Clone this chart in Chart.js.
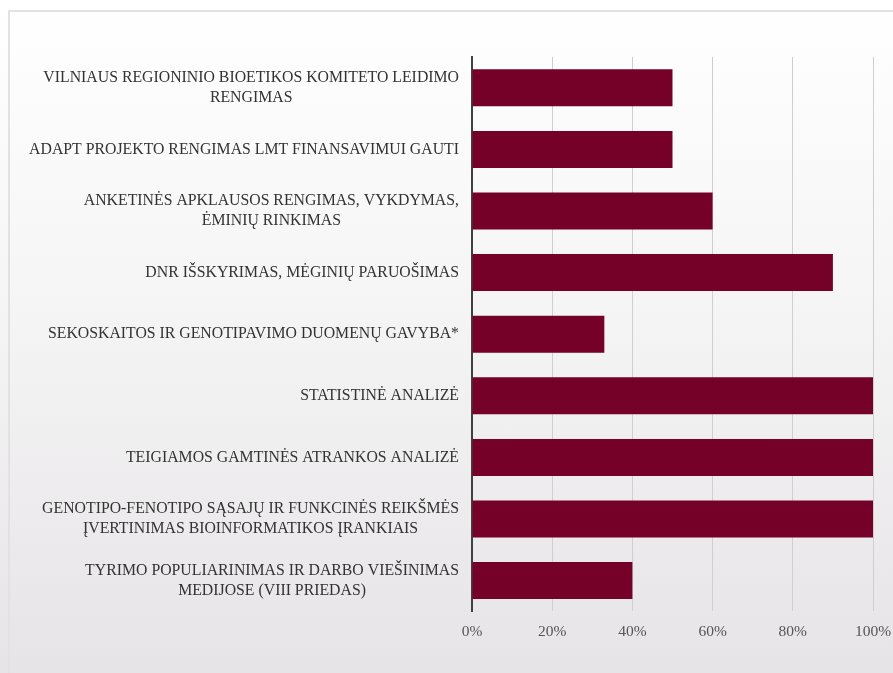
<!DOCTYPE html>
<html>
<head>
<meta charset="utf-8">
<script src="https://cdn.jsdelivr.net/npm/chart.js@4/dist/chart.umd.min.js"></script>
<style>
  html, body { margin: 0; padding: 0; }
  body {
    width: 893px; height: 673px; overflow: hidden; position: relative;
    background: linear-gradient(to bottom, #ffffff 0%, #f6f5f6 45%, #e6e4e6 100%);
  }
  #frame {
    position: absolute; left: 8px; top: 10px; right: -4px; bottom: -4px;
    border-left: 2px solid #e2e2e2; border-top: 2px solid #e2e2e2;
  }
  #wrap { position: absolute; left: 0; top: 0; width: 893px; height: 673px; }
</style>
</head>
<body>
<div id="frame"></div>
<div id="wrap"><canvas id="chart" width="893" height="673"></canvas></div>
<script>
// Work stages and their completion share, in percent
const stages = [
  ["VILNIAUS REGIONINIO BIOETIKOS KOMITETO LEIDIMO", "RENGIMAS"],
  ["ADAPT PROJEKTO RENGIMAS LMT FINANSAVIMUI GAUTI"],
  ["ANKETINĖS APKLAUSOS RENGIMAS, VYKDYMAS,", "ĖMINIŲ RINKIMAS"],
  ["DNR IŠSKYRIMAS, MĖGINIŲ PARUOŠIMAS"],
  ["SEKOSKAITOS IR GENOTIPAVIMO DUOMENŲ GAVYBA*"],
  ["STATISTINĖ ANALIZĖ"],
  ["TEIGIAMOS GAMTINĖS ATRANKOS ANALIZĖ"],
  ["GENOTIPO-FENOTIPO SĄSAJŲ IR FUNKCINĖS REIKŠMĖS", "ĮVERTINIMAS BIOINFORMATIKOS ĮRANKIAIS"],
  ["TYRIMO POPULIARINIMAS IR DARBO VIEŠINIMAS", "MEDIJOSE (VIII PRIEDAS)"]
];
const completion = [50, 50, 60, 90, 33, 100, 100, 100, 40];
const percentTicks = [0, 20, 40, 60, 80, 100];

const SERIF = "'Liberation Serif', 'Times New Roman', serif";

// Category labels: block right-aligned to the axis, lines centred within the block
const stageLabels = {
  id: 'stageLabels',
  afterDraw(chart) {
    const ctx = chart.ctx;
    const y = chart.scales.y;
    const right = chart.chartArea.left - 13;
    const lineH = 20;
    ctx.save();
    ctx.font = "15.8px " + SERIF;
    ctx.fillStyle = '#333333';
    ctx.textAlign = 'center';
    ctx.textBaseline = 'middle';
    stages.forEach((lines, i) => {
      const cy = y.getPixelForValue(i);
      const widest = Math.max(...lines.map(l => ctx.measureText(l).width));
      const cx = right - widest / 2;
      const top = cy - (lines.length - 1) * lineH / 2;
      lines.forEach((l, k) => ctx.fillText(l, cx, top + k * lineH));
    });
    ctx.restore();
  }
};

new Chart(document.getElementById('chart'), {
  type: 'bar',
  data: {
    labels: stages.map(s => s.join(' ')),
    datasets: [{
      data: completion,
      backgroundColor: '#750028',
      borderWidth: 0,
      categoryPercentage: 1,
      barPercentage: 0.6
    }]
  },
  options: {
    indexAxis: 'y',
    responsive: false,
    animation: false,
    layout: { padding: { top: 57, right: 20, bottom: 21, left: 0 } },
    plugins: { legend: { display: false }, tooltip: { enabled: false } },
    scales: {
      x: {
        min: 0, max: 100,
        afterBuildTicks(scale) { scale.ticks = percentTicks.map(v => ({ value: v })); },
        afterFit(scale) { scale.paddingLeft = 0; scale.paddingRight = 0; },
        grid: { color: '#cfcfcf', lineWidth: 1, drawTicks: false },
        border: { display: false },
        ticks: {
          padding: 11,
          color: '#555555',
          font: { family: SERIF, size: 15.5 },
          callback: v => v + '%'
        }
      },
      y: {
        z: 1,
        grid: { display: false, drawTicks: false },
        border: { display: true, color: '#404040', width: 2 },
        ticks: { display: false },
        afterFit(scale) { scale.width = 472; }
      }
    }
  },
  plugins: [stageLabels]
});
</script>
</body>
</html>
